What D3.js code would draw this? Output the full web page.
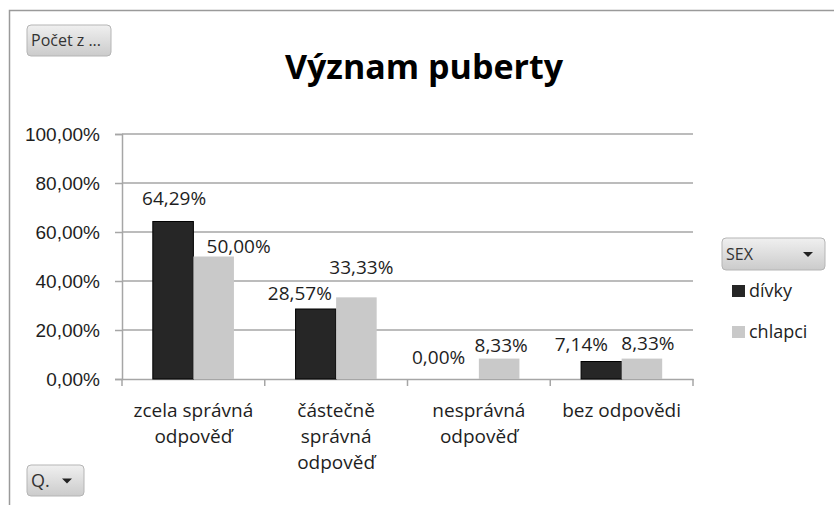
<!DOCTYPE html>
<html>
<head>
<meta charset="utf-8">
<script src="https://cdn.jsdelivr.net/npm/d3@7"></script>
<style>
  body { margin: 0; background: #fff; }
  svg { font-family: "Open Sans", sans-serif; }
</style>
</head>
<body>
<div id="chart"></div>
<script>
// data
const categories = ["zcela správná odpověď", "částečně správná odpověď", "nesprávná odpověď", "bez odpovědi"];
const categoryLines = [["zcela správná", "odpověď"], ["částečně", "správná", "odpověď"], ["nesprávná", "odpověď"], ["bez odpovědi"]];
const seriesNames = ["dívky", "chlapci"];
const divky = [0.6429, 0.2857, 0.0, 0.0714];
const chlapci = [0.50, 0.3333, 0.0833, 0.0833];
const yTicks = [0, 0.2, 0.4, 0.6, 0.8, 1.0];
const title = "Význam puberty";

// label nudges (Excel moved some of the data labels by hand)
const labelNudge = {
  "dívky":   [[1, -16], [-16, -9], [-20, -15], [-20, -11]],
  "chlapci": [[25, -4], [5, -23], [2, -7], [6, -9]]
};

const W = 834, H = 505;
const colors = { "dívky": "#262626", "chlapci": "#c9c9c9" };
const textColor = "#1e1e1e";
const fmt = v => (v * 100).toFixed(2).replace(".", ",") + "%";

const svg = d3.select("#chart").append("svg")
  .attr("width", W).attr("height", H);

const defs = svg.append("defs");
const grad = defs.append("linearGradient").attr("id", "btn").attr("x1", 0).attr("y1", 0).attr("x2", 0).attr("y2", 1);
grad.append("stop").attr("offset", "0%").attr("stop-color", "#f0f0f0");
grad.append("stop").attr("offset", "100%").attr("stop-color", "#cbcbcb");

// outer frame
svg.append("path")
  .attr("d", `M9.5,${H} V10.5 H${W}`)
  .attr("fill", "none").attr("stroke", "#9a9a9a").attr("stroke-width", 1.5);

// title
svg.append("text")
  .attr("x", 424).attr("y", 79)
  .attr("text-anchor", "middle")
  .style("font-size", "34px").style("font-weight", "bold")
  .attr("fill", "#000")
  .text(title);

const x = d3.scaleBand().domain(categories).range([122, 693]).paddingInner(0).paddingOuter(0);
const xSub = d3.scaleBand().domain(seriesNames).range([0, x.bandwidth()]).paddingInner(0).paddingOuter(0.76);
const y = d3.scaleLinear().domain([0, 1]).range([379, 134]);

// gridlines
svg.append("g")
  .selectAll("line").data(yTicks.filter(t => t > 0)).join("line")
  .attr("x1", 122).attr("x2", 693)
  .attr("y1", d => y(d)).attr("y2", d => y(d))
  .attr("stroke", "#a6a6a6").attr("stroke-width", 1.5);

// y axis
const yAxis = svg.append("g")
  .attr("transform", "translate(122,0)")
  .call(d3.axisLeft(y).tickValues(yTicks).tickFormat(fmt).tickSize(7).tickPadding(15));
yAxis.select(".domain").attr("stroke", "#a6a6a6").attr("stroke-width", 1.5);
yAxis.selectAll(".tick line").attr("stroke", "#a6a6a6").attr("stroke-width", 1.5);
yAxis.selectAll(".tick text").style("font-size", "19px").attr("fill", textColor).attr("dy", "0.36em");

// x axis
const xAxis = svg.append("g")
  .attr("transform", "translate(0,379)")
  .call(d3.axisBottom(x).tickSize(0).tickFormat(""));
xAxis.select(".domain").attr("stroke", "#a6a6a6").attr("stroke-width", 1.5);
xAxis.selectAll(".tick").remove();
const bounds = [x(categories[0])].concat(categories.map(c => x(c) + x.bandwidth()));
xAxis.selectAll("line.sep").data(bounds).join("line")
  .attr("class", "sep")
  .attr("x1", d => d).attr("x2", d => d)
  .attr("y1", 0).attr("y2", 7)
  .attr("stroke", "#a6a6a6").attr("stroke-width", 1.5);

// category labels
svg.append("g").selectAll("text").data(categories).join("text")
  .attr("x", d => x(d) + x.bandwidth() / 2)
  .attr("y", 417)
  .attr("text-anchor", "middle")
  .style("font-size", "19px").attr("fill", textColor)
  .selectAll("tspan").data((d, i) => categoryLines[i]).join("tspan")
  .attr("x", function () { return this.parentNode.getAttribute("x"); })
  .attr("dy", (d, i) => i === 0 ? 0 : 26)
  .text(d => d);

// bars
const rows = categories.map((c, i) => ({
  category: c,
  values: [{ key: "dívky", value: divky[i], idx: i }, { key: "chlapci", value: chlapci[i], idx: i }]
}));

const groups = svg.append("g").selectAll("g").data(rows).join("g")
  .attr("transform", d => `translate(${x(d.category)},0)`);

groups.selectAll("rect").data(d => d.values).join("rect")
  .attr("x", d => xSub(d.key))
  .attr("y", d => y(d.value))
  .attr("width", xSub.bandwidth())
  .attr("height", d => y(0) - y(d.value))
  .attr("fill", d => colors[d.key])
  .attr("stroke", d => d.key === "dívky" && d.value > 0 ? "#000" : "none")
  .attr("stroke-width", 1);

groups.selectAll("text").data(d => d.values).join("text")
  .attr("x", d => xSub(d.key) + xSub.bandwidth() / 2 + labelNudge[d.key][d.idx][0])
  .attr("y", d => y(d.value) + labelNudge[d.key][d.idx][1])
  .attr("text-anchor", "middle")
  .style("font-size", "19px").attr("fill", textColor)
  .text(d => fmt(d.value));

// buttons
function button(bx, by, bw, bh, label, fs, arrow) {
  const g = svg.append("g");
  g.append("rect").attr("x", bx).attr("y", by).attr("width", bw).attr("height", bh)
    .attr("rx", 4).attr("fill", "url(#btn)").attr("stroke", "#b5b5b5");
  g.append("text").attr("x", bx + 4).attr("y", by + bh / 2 + fs * 0.36)
    .style("font-size", fs + "px").attr("fill", "#333").text(label);
  if (arrow) {
    g.append("path")
      .attr("d", `M${arrow - 5},${by + bh / 2 - 2} h10 l-5,5 z`)
      .attr("fill", "#222");
  }
}
button(27, 25, 84, 31, "Počet z ...", 16, null);
button(27, 465, 57, 31, "Q.", 18, 67);
button(722, 238, 103, 32, "SEX", 16, 808);

// legend
const legend = svg.append("g").selectAll("g").data(seriesNames).join("g")
  .attr("transform", (d, i) => `translate(732,${285 + i * 41})`);
legend.append("rect").attr("width", 13).attr("height", 12)
  .attr("fill", d => colors[d]);
legend.append("text").attr("x", 17).attr("y", 12)
  .style("font-size", "18px").attr("fill", textColor).text(d => d);
</script>
</body>
</html>
